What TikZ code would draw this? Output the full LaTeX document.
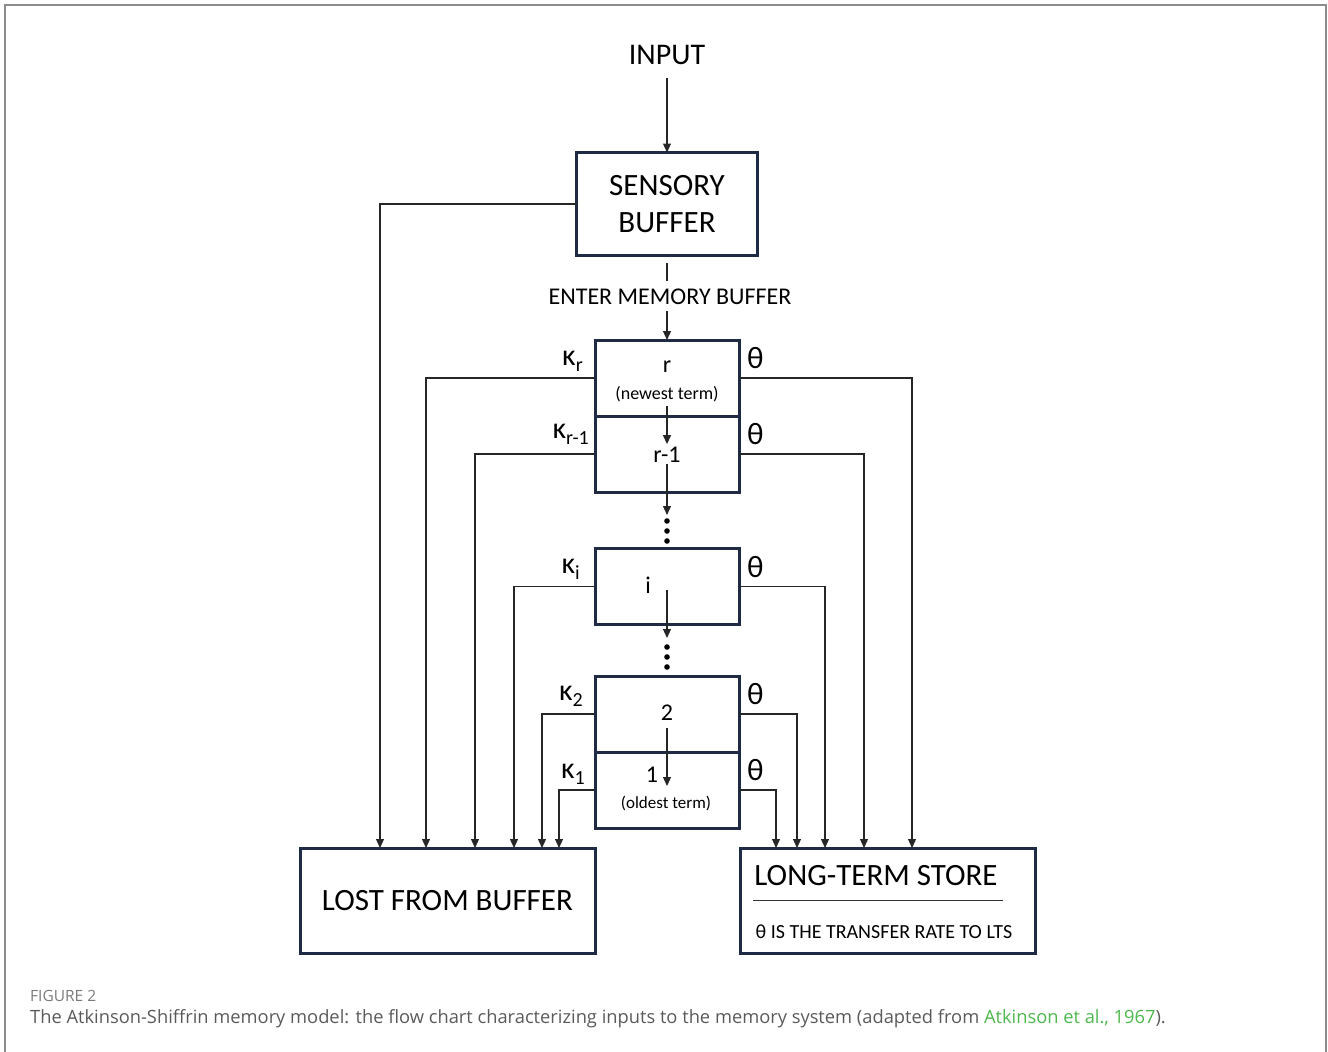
\documentclass[tikz,border=0pt]{standalone}
\usepackage{fontspec}
\setmainfont{Carlito}
\newfontfamily\captionfont{Open Sans}
\usepackage{xcolor}
\definecolor{boxNavy}{HTML}{1F2A44}
\definecolor{captionGray}{HTML}{5A5A5A}
\definecolor{tagGray}{HTML}{7A7A7A}
\definecolor{linkGreen}{HTML}{4DB84D}
\definecolor{frameGray}{HTML}{8C8C8C}
\usepackage{tikz}
\usetikzlibrary{positioning,arrows.meta}
\newcommand{\kap}[1]{{\fontsize{30}{30}\selectfont κ}\raisebox{-6pt}{\fontsize{20}{20}\selectfont #1}}
\tikzset{%
  stageBox/.style={
    rectangle, draw=boxNavy, line width=3pt, outer sep=0pt, inner sep=0pt,
    minimum width=144pt, minimum height=76pt},
  bigBox/.style={stageBox, minimum width=295pt, minimum height=105pt,
    align=center, font=\fontsize{31}{37}\selectfont},
  termText/.style={inner sep=1pt, font=\fontsize{24}{28}\selectfont},
  noteText/.style={inner sep=1pt, font=\fontsize{18}{22}\selectfont},
  decayLbl/.style={inner sep=1pt},
  rateLbl/.style={inner sep=1pt, font=\fontsize{31}{34}\selectfont},
  flowArrow/.style={-{Triangle[length=9pt,width=8pt]}, line width=1.2pt, black!85},
  plainLine/.style={line width=1.2pt, black!85},
  dotFill/.style={fill=black},
}

\begin{document}
\begin{tikzpicture}[x=1pt, y=-1pt]
  \useasboundingbox (0,0) rectangle (1328,1052);
  \draw[frameGray, line width=2pt] (5,1052) -- (5,5) -- (1326,5) -- (1326,1052);

  \node[font=\fontsize{30}{36}\selectfont] (input) at (667,55) {INPUT};
  \node[bigBox, minimum width=181pt, minimum height=103pt] (sb) at (667,204) {SENSORY\\BUFFER};
  \node[font=\fontsize{24}{29}\selectfont] (enter) at (670,297) {ENTER MEMORY BUFFER};

  \node[stageBox] (br) at (667,378) {};
  \node[stageBox, below=0pt of br] (brm1) {};
  \node[stageBox] (bi) at (667,586.5) {};
  \node[stageBox] (b2) at (667,714) {};
  \node[stageBox, below=0pt of b2] (b1) {};

  \node[bigBox] (lost) at (447.5,900.5) {LOST FROM BUFFER};
  \node[bigBox] (lts) at (887.5,900.5) {};
  \node[font=\fontsize{31}{37}\selectfont] (ltsTitle) at (876,876) {LONG-TERM STORE};
  \node[font=\fontsize{20}{24}\selectfont] (ltsNote) at (884,932) {θ IS THE TRANSFER RATE TO LTS};
  \draw[line width=1.3pt, black!80] ([xshift=13pt]lts.west) -- ([xshift=-32pt]lts.east);

  \node[termText] (rName) at (667,367) {r};
  \node[noteText] (rNote) at (667,394) {(newest term)};
  \node[termText] (rm1Name) at (667,455) {r-1};
  \node[termText] (iName) at (648,585) {i};
  \node[termText] (twoName) at (667,713) {2};
  \node[termText] (oneName) at (652,775) {1};
  \node[noteText, font=\fontsize{17}{20}\selectfont] (oneNote) at (666,803) {(oldest term)};

  \coordinate (dotsA) at (667,515);
  \coordinate (dotsB) at (667,638);
  \foreach \k in {1,2,3} {
    \fill[dotFill] (667,511+10*\k) circle (2.8pt);
    \fill[dotFill] (667,637+10*\k) circle (2.8pt);
  }

  \node[decayLbl, above left=5pt and 11pt of br.west] (kr) {\kap{r}};
  \node[decayLbl, above left=8pt and 5pt of brm1.west] (krm1) {\kap{r-1}};
  \node[decayLbl, above left=6pt and 14pt of bi.west] (ki) {\kap{i}};
  \node[decayLbl, above left=6pt and 11pt of b2.west] (k2) {\kap{2}};
  \node[decayLbl, above left=4pt and 9pt of b1.west] (k1) {\kap{1}};

  \node[rateLbl, above right=8pt and 7pt of br.east] (tr) {θ};
  \node[rateLbl, above right=8pt and 7pt of brm1.east] (trm1) {θ};
  \node[rateLbl, above right=8pt and 7pt of bi.east] (ti) {θ};
  \node[rateLbl, above right=8pt and 7pt of b2.east] (t2) {θ};
  \node[rateLbl, above right=8pt and 7pt of b1.east] (t1) {θ};

  \draw[flowArrow, shorten <=10pt] (input.south) -- (sb.north);
  \draw[plainLine, shorten <=7pt, shorten >=5pt] (sb.south) -- (sb.south |- enter.north);
  \draw[flowArrow, shorten <=3pt] (br.north |- enter.south) -- (br.north);
  \draw[flowArrow, shorten <=3pt, shorten >=2pt] (rNote.south) -- (rm1Name.north);
  \draw[flowArrow] (rm1Name.south) -- (dotsA);
  \draw[flowArrow, shorten <=3pt] (bi.center) -- (dotsB);
  \draw[flowArrow, shorten <=6pt, shorten >=4pt] (twoName.south) -- (b1.center);

  \draw[flowArrow] (sb.west)   -| ([xshift=80pt]lost.north west);
  \draw[flowArrow] (br.west)   -| ([xshift=126pt]lost.north west);
  \draw[flowArrow] (brm1.west) -| ([xshift=175pt]lost.north west);
  \draw[flowArrow] (bi.west)   -| ([xshift=214pt]lost.north west);
  \draw[flowArrow] (b2.west)   -| ([xshift=242pt]lost.north west);
  \draw[flowArrow] (b1.west)   -| ([xshift=259pt]lost.north west);

  \draw[flowArrow] (br.east)   -| ([xshift=172pt]lts.north west);
  \draw[flowArrow] (brm1.east) -| ([xshift=124pt]lts.north west);
  \draw[flowArrow] (bi.east)   -| ([xshift=85pt]lts.north west);
  \draw[flowArrow] (b2.east)   -| ([xshift=57pt]lts.north west);
  \draw[flowArrow] (b1.east)   -| ([xshift=36pt]lts.north west);

  \node[anchor=west, inner sep=0pt, text=tagGray, font=\captionfont\fontsize{15.5}{18}\selectfont] (figTag) at (30,996) {FIGURE 2};
  \node[anchor=west, inner sep=0pt, text=captionGray, font=\captionfont\fontsize{18.3}{22}\selectfont] (caption) at (30,1019)
    {The Atkinson-Shiffrin memory model: the flow chart characterizing inputs to the memory system (adapted from \textcolor{linkGreen}{Atkinson et al., 1967}).};
\end{tikzpicture}
\end{document}
